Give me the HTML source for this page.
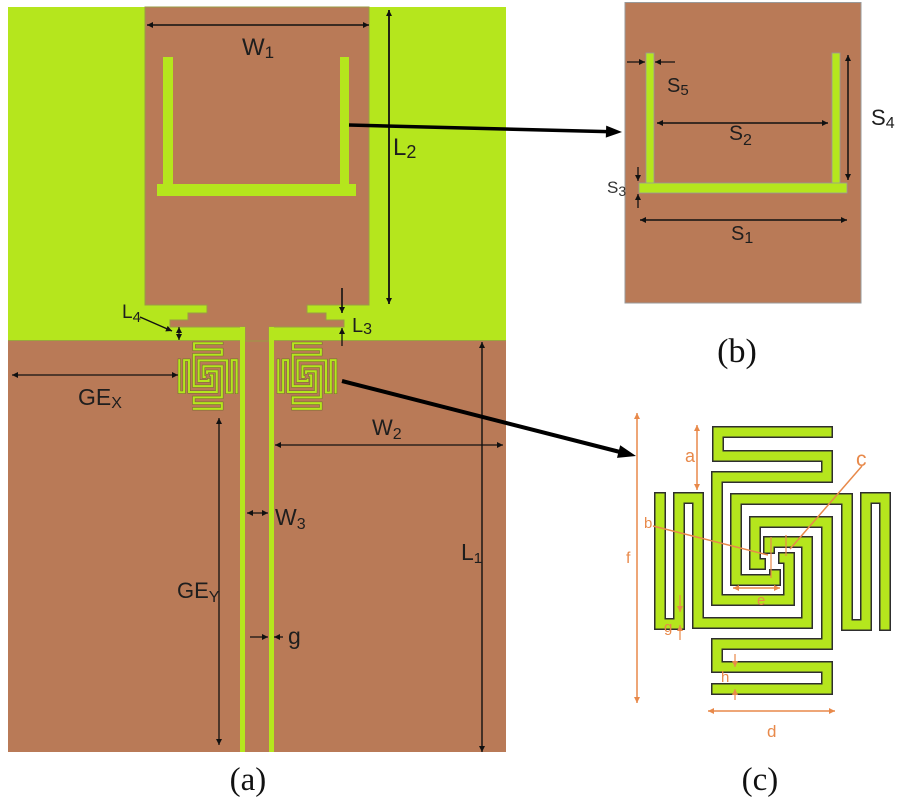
<!DOCTYPE html>
<html><head><meta charset="utf-8"><style>html,body{margin:0;padding:0;background:#fff}svg{display:block}</style></head>
<body>
<svg width="900" height="800" viewBox="0 0 900 800" xmlns="http://www.w3.org/2000/svg" font-family="'Liberation Sans', sans-serif">
<defs>
<marker id="ah" viewBox="0 0 10 10" refX="10" refY="5" markerWidth="7" markerHeight="6" markerUnits="userSpaceOnUse" orient="auto-start-reverse"><path d="M0,0 L10,5 L0,10 z" fill="#111"/></marker>
<marker id="ao" viewBox="0 0 10 10" refX="10" refY="5" markerWidth="7" markerHeight="6" markerUnits="userSpaceOnUse" orient="auto-start-reverse"><path d="M0,0 L10,5 L0,10 z" fill="#e8894a"/></marker>
<g id="arms" fill="none" stroke-linejoin="miter" stroke-linecap="square">
<path d="M660,498 V624 H679 V498 H698 V623 H807 V542 H769 V548"/>
<path d="M827,432 H718 V456 H827 V477 H717 V600 H789 V558 H784"/>
<path d="M885,625 V498 H866 V625 H847 V499 H736 V580 H775 V575"/>
<path d="M717,689 H827 V667 H717 V644 H827 V522 H755 V564 H760"/>
</g>
</defs>
<rect width="900" height="800" fill="#fff"/>

<!-- (a) board -->
<rect x="8" y="7" width="498" height="333" fill="#b5e61d"/>
<rect x="8" y="340" width="498" height="412" fill="#b97a57"/>
<line x1="8" y1="340.5" x2="506" y2="340.5" stroke="#9aa83a" stroke-width="1"/>
<polygon points="145,7 369,7 369,305 307,305 307,313 326,313 326,320 344,320 344,327 269,327 269,341 245,341 245,327 170,327 170,320 188,320 188,313 207,313 207,305 145,305" fill="#b97a57" stroke="#9a9a45" stroke-width="1"/>
<rect x="240" y="327" width="5" height="425" fill="#b5e61d"/>
<rect x="269" y="327" width="5" height="425" fill="#b5e61d"/>
<!-- U resonator in (a) -->
<rect x="163" y="57" width="10" height="128" fill="#b5e61d"/>
<rect x="340" y="57" width="9" height="128" fill="#b5e61d"/>
<rect x="157" y="184" width="199" height="12" fill="#b5e61d"/>

<!-- small spirals -->
<g transform="translate(178,342) scale(0.255) translate(-655,-427)">
<use href="#arms" stroke="#6d6b2d" stroke-width="12"/>
<use href="#arms" stroke="#b5e61d" stroke-width="8"/>
</g>
<g transform="translate(277,342) scale(0.255) translate(-655,-427)">
<use href="#arms" stroke="#6d6b2d" stroke-width="12"/>
<use href="#arms" stroke="#b5e61d" stroke-width="8"/>
</g>

<!-- (a) dimension lines -->
<g stroke="#111" fill="none">
<line x1="147" y1="25" x2="369" y2="25" stroke-width="1.6" marker-start="url(#ah)" marker-end="url(#ah)"/>
<line x1="389" y1="10" x2="389" y2="304" stroke-width="1.8" marker-start="url(#ah)" marker-end="url(#ah)"/>
<line x1="140" y1="317" x2="172" y2="331" stroke-width="1.5" marker-end="url(#ah)"/>
<line x1="179" y1="327" x2="179" y2="340" stroke-width="1.2" marker-start="url(#ah)" marker-end="url(#ah)"/>
<line x1="342" y1="288" x2="342" y2="313" stroke-width="1.6" marker-end="url(#ah)"/>
<line x1="342" y1="346" x2="342" y2="328" stroke-width="1.3" marker-end="url(#ah)"/>
<line x1="12" y1="375" x2="178" y2="375" stroke-width="1.3" marker-start="url(#ah)" marker-end="url(#ah)"/>
<line x1="219" y1="418" x2="219" y2="745" stroke-width="1.3" marker-start="url(#ah)" marker-end="url(#ah)"/>
<line x1="275" y1="445" x2="503" y2="445" stroke-width="1.3" marker-start="url(#ah)" marker-end="url(#ah)"/>
<line x1="247" y1="513" x2="268" y2="513" stroke-width="1.3" marker-start="url(#ah)" marker-end="url(#ah)"/>
<line x1="250" y1="637" x2="268" y2="637" stroke-width="1.3" marker-end="url(#ah)"/>
<line x1="283" y1="637" x2="274" y2="637" stroke-width="1.3" marker-end="url(#ah)"/>
<line x1="482" y1="342" x2="482" y2="752" stroke-width="1.4" marker-start="url(#ah)" marker-end="url(#ah)"/>
</g>

<!-- (a) labels -->
<g fill="#1e1e1e">
<text x="242" y="55" font-size="24">W<tspan font-size="17" dy="3">1</tspan></text>
<text x="393" y="155" font-size="24">L<tspan font-size="18" dy="3">2</tspan></text>
<text x="122" y="318" font-size="19">L<tspan font-size="15" dy="4">4</tspan></text>
<text x="352" y="332" font-size="20">L<tspan font-size="16" dy="2">3</tspan></text>
<text x="78" y="405" font-size="23">GE<tspan font-size="16" dy="3">X</tspan></text>
<text x="177" y="598" font-size="22">GE<tspan font-size="16" dy="4">Y</tspan></text>
<text x="372" y="435" font-size="22">W<tspan font-size="16" dy="4">2</tspan></text>
<text x="275" y="525" font-size="23">W<tspan font-size="16" dy="4">3</tspan></text>
<text x="288" y="644" font-size="23">g</text>
<text x="461" y="560" font-size="23">L<tspan font-size="15" dy="3">1</tspan></text>
</g>
<text x="248" y="790" font-size="33" font-family="'Liberation Serif', serif" text-anchor="middle" fill="#111">(a)</text>

<!-- (b) -->
<rect x="625" y="2.5" width="236" height="300.5" fill="#b97a57" stroke="#9a9a9a" stroke-width="1"/>
<g fill="#b5e61d" stroke="#999" stroke-width="0.8">
<rect x="646" y="53" width="8" height="131"/>
<rect x="832" y="53" width="8" height="131"/>
<rect x="639" y="183" width="208" height="10"/>
</g>
<g stroke="#111" fill="none" stroke-width="1.3">
<line x1="627" y1="62" x2="645" y2="62" marker-end="url(#ah)"/>
<line x1="675" y1="62" x2="655" y2="62" marker-end="url(#ah)"/>
<line x1="657" y1="123" x2="828" y2="123" stroke-width="1.5" marker-start="url(#ah)" marker-end="url(#ah)"/>
<line x1="848" y1="55" x2="848" y2="180" stroke-width="1.5" marker-start="url(#ah)" marker-end="url(#ah)"/>
<line x1="638" y1="167" x2="638" y2="181" marker-end="url(#ah)"/>
<line x1="638" y1="208" x2="638" y2="194" marker-end="url(#ah)"/>
<line x1="640" y1="220" x2="847" y2="220" stroke-width="1.5" marker-start="url(#ah)" marker-end="url(#ah)"/>
</g>
<g fill="#1e1e1e">
<text x="667" y="92" font-size="20">S<tspan font-size="15" dy="3">5</tspan></text>
<text x="729" y="140" font-size="21">S<tspan font-size="16" dy="5">2</tspan></text>
<text x="871" y="125" font-size="22">S<tspan font-size="16" dy="3">4</tspan></text>
<text x="607" y="193" font-size="17" fill="#333">S<tspan font-size="14" dy="3">3</tspan></text>
<text x="731" y="240" font-size="20">S<tspan font-size="16" dy="3">1</tspan></text>
</g>
<text x="737" y="362" font-size="34" font-family="'Liberation Serif', serif" text-anchor="middle" fill="#111">(b)</text>

<!-- pointer arrows -->
<line x1="349" y1="125" x2="607" y2="131.6" stroke="#000" stroke-width="3.5"/>
<polygon points="622,132 605.8,137.6 606.2,125.6" fill="#000"/>
<line x1="342" y1="381" x2="620" y2="452" stroke="#000" stroke-width="4"/>
<polygon points="636,456 617,457.9 620.2,445.3" fill="#000"/>

<!-- (c) spiral -->
<use href="#arms" stroke="#2e2e2e" stroke-width="12"/>
<use href="#arms" stroke="#b5e61d" stroke-width="9"/>

<!-- (c) orange dims -->
<g stroke="#e8894a" fill="none" stroke-width="1.5">
<line x1="637" y1="413" x2="637" y2="703" marker-start="url(#ao)" marker-end="url(#ao)"/>
<line x1="697" y1="425" x2="697" y2="490" marker-start="url(#ao)" marker-end="url(#ao)"/>
<line x1="653" y1="526" x2="768" y2="555"/>
<line x1="862" y1="466" x2="790" y2="549"/>
<line x1="708" y1="711" x2="835" y2="711" marker-start="url(#ao)" marker-end="url(#ao)"/>
<line x1="733" y1="588" x2="780" y2="588" marker-start="url(#ao)" marker-end="url(#ao)"/>
<line x1="771" y1="537" x2="771" y2="578" stroke-width="1.2"/>
<line x1="786" y1="535" x2="786" y2="556" stroke-width="1.2"/>
<line x1="680" y1="595" x2="680" y2="612" stroke-width="1.2" marker-end="url(#ao)"/>
<line x1="680" y1="640" x2="680" y2="625" stroke-width="1.2" marker-end="url(#ao)"/>
<line x1="735" y1="654" x2="735" y2="667" stroke-width="1.2" marker-end="url(#ao)"/>
<line x1="735" y1="700" x2="735" y2="689" stroke-width="1.2" marker-end="url(#ao)"/>
</g>
<g fill="#e8894a">
<text x="685" y="462" font-size="18">a</text>
<text x="644" y="528" font-size="15">b</text>
<text x="856" y="466" font-size="21">c</text>
<text x="626" y="563" font-size="16">f</text>
<text x="757" y="605" font-size="15">e</text>
<text x="664" y="632" font-size="15">g</text>
<text x="721" y="682" font-size="15">h</text>
<text x="767" y="737" font-size="17">d</text>
</g>
<text x="760" y="790" font-size="33" font-family="'Liberation Serif', serif" text-anchor="middle" fill="#111">(c)</text>
</svg>
</body></html>
